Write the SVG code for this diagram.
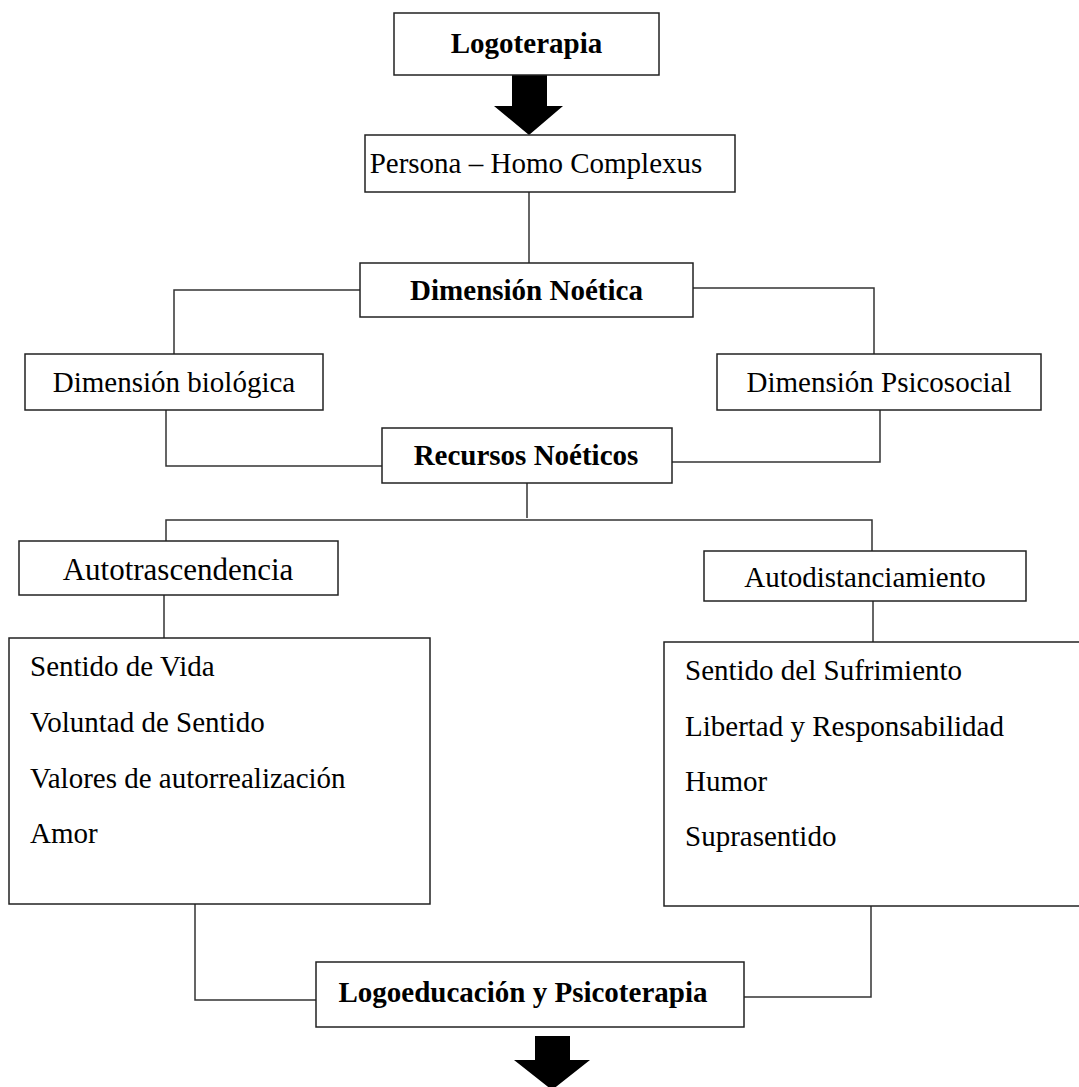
<svg xmlns="http://www.w3.org/2000/svg" width="1079" height="1087" viewBox="0 0 1079 1087">
<style>
  .box { fill: #fff; stroke: #222; stroke-width: 1.5; }
  .t { font-family: "Liberation Serif", "Times New Roman", serif; font-size: 29px; fill: #000; }
  .c { text-anchor: middle; }
  .b { font-weight: bold; }
  .conn { fill: none; stroke: #333; stroke-width: 1.5; }
  .arrow { fill: #000; }
</style>
<rect width="1079" height="1087" fill="#fff"/>
<g id="connectors">
  <path class="conn" d="M529 192 V263"/>
  <path class="conn" d="M360 290 H174 V354"/>
  <path class="conn" d="M693 288 H874 V354"/>
  <path class="conn" d="M166 410 V466 H382"/>
  <path class="conn" d="M880 410 V462 H672"/>
  <path class="conn" d="M527 483 V518"/>
  <path class="conn" d="M166 541 V520 H872 V551"/>
  <path class="conn" d="M164 595 V638"/>
  <path class="conn" d="M873 601 V642"/>
  <path class="conn" d="M195 904 V1000 H316"/>
  <path class="conn" d="M871 906 V997 H744"/>
  <polygon class="arrow" points="512,75 547,75 547,106 563,106 529,135 494,106 512,106"/>
  <polygon class="arrow" points="535,1036 570,1036 570,1060 590,1060 552,1090 514,1060 535,1060"/>
</g>
<g id="n-logoterapia">
  <rect class="box" x="394" y="13" width="265" height="62"/>
  <text class="t b c" x="526.5" y="53">Logoterapia</text>
</g>
<g id="n-persona">
  <rect class="box" x="365" y="135" width="370" height="57"/>
  <text class="t c" x="536" y="173">Persona – Homo Complexus</text>
</g>
<g id="n-noetica">
  <rect class="box" x="360" y="263" width="333" height="54"/>
  <text class="t b c" x="526.5" y="300">Dimensión Noética</text>
</g>
<g id="n-biologica">
  <rect class="box" x="25" y="354" width="298" height="56"/>
  <text class="t c" x="174" y="392">Dimensión biológica</text>
</g>
<g id="n-psicosocial">
  <rect class="box" x="717" y="354" width="324" height="56"/>
  <text class="t c" x="879" y="392">Dimensión Psicosocial</text>
</g>
<g id="n-recursos">
  <rect class="box" x="382" y="428" width="290" height="55"/>
  <text class="t b c" x="526" y="465">Recursos Noéticos</text>
</g>
<g id="n-autotrascendencia">
  <rect class="box" x="19" y="541" width="319" height="54"/>
  <text class="t c" x="178" y="580" style="font-size:31px">Autotrascendencia</text>
</g>
<g id="n-autodistanciamiento">
  <rect class="box" x="704" y="551" width="322" height="50"/>
  <text class="t c" x="865" y="587">Autodistanciamiento</text>
</g>
<g id="n-lista-izq">
  <rect class="box" x="9" y="638" width="421" height="266"/>
  <text class="t" x="30" y="676">Sentido de Vida</text>
  <text class="t" x="30" y="732">Voluntad de Sentido</text>
  <text class="t" x="30" y="788">Valores de autorrealización</text>
  <text class="t" x="30" y="843">Amor</text>
</g>
<g id="n-lista-der">
  <rect class="box" x="664" y="642" width="430" height="264"/>
  <text class="t" x="685" y="680">Sentido del Sufrimiento</text>
  <text class="t" x="685" y="736">Libertad y Responsabilidad</text>
  <text class="t" x="685" y="791">Humor</text>
  <text class="t" x="685" y="846">Suprasentido</text>
</g>
<g id="n-logoeducacion">
  <rect class="box" x="316" y="962" width="428" height="65"/>
  <text class="t b c" x="523" y="1002">Logoeducación y Psicoterapia</text>
</g>
</svg>
